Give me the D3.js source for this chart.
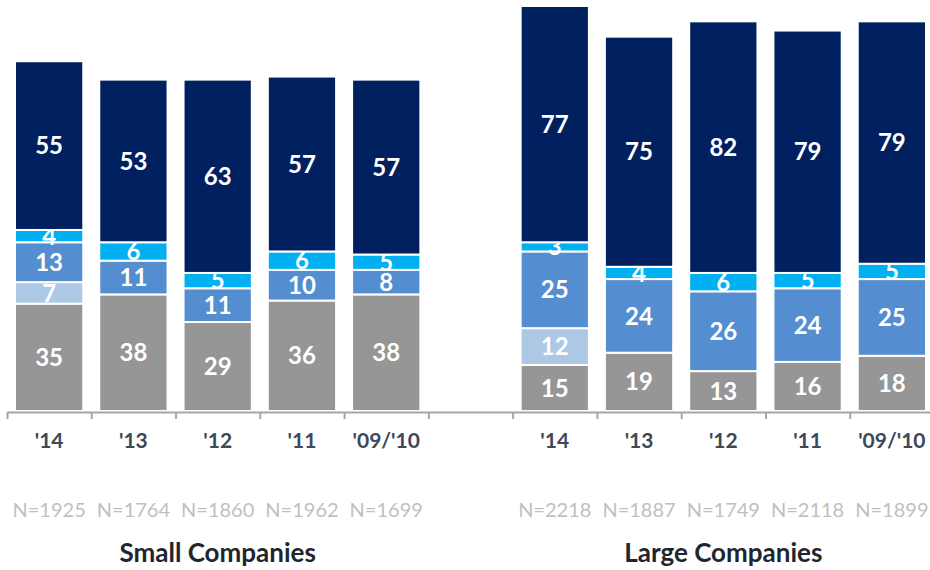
<!DOCTYPE html>
<html>
<head>
<meta charset="utf-8">
<script src="https://cdn.jsdelivr.net/npm/d3@7/dist/d3.min.js"></script>
<style>
  body { margin: 0; background: #fff; }
  svg { display: block; font-family: Lato, "Open Sans", sans-serif; }
</style>
</head>
<body>
<div id="chart"></div>
<script>
// categories
var years = ["'14", "'13", "'12", "'11", "'09/'10"];
var groupTitles = ["Small Companies", "Large Companies"];

// sample sizes
var smallN = [1925, 1764, 1860, 1962, 1699];
var largeN = [2218, 1887, 1749, 2118, 1899];

// series, bottom to top
var seriesKeys = ["grey", "pale", "mid", "cyan", "navy"];

var smallGrey = [35, 38, 29, 36, 38];
var smallPale = [7, 0, 0, 0, 0];
var smallMid  = [13, 11, 11, 10, 8];
var smallCyan = [4, 6, 5, 6, 5];
var smallNavy = [55, 53, 63, 57, 57];

var largeGrey = [15, 19, 13, 16, 18];
var largePale = [12, 0, 0, 0, 0];
var largeMid  = [25, 24, 26, 24, 25];
var largeCyan = [3, 4, 6, 5, 5];
var largeNavy = [77, 75, 82, 79, 79];

var colors = {
  grey: "#969696",
  pale: "#adc8e5",
  mid: "#558ed0",
  cyan: "#00b0f0",
  navy: "#002060"
};

function drawChart() {
  var width = 930;
  var height = 570;
  var baseY = 411;

  var svg = d3.select("#chart")
    .append("svg")
      .attr("width", width)
      .attr("height", height);

  // build one row per bar, with an empty slot between the two groups
  var rows = [];
  function addGroup(prefix, n, grey, pale, mid, cyan, navy) {
    years.forEach(function(yr, i) {
      rows.push({
        key: prefix + i, year: yr, n: n[i],
        grey: grey[i], pale: pale[i], mid: mid[i], cyan: cyan[i], navy: navy[i]
      });
    });
  }
  addGroup("S", smallN, smallGrey, smallPale, smallMid, smallCyan, smallNavy);
  var slots = rows.map(function(d) { return d.key; });
  slots.push("gap");
  addGroup("L", largeN, largeGrey, largePale, largeMid, largeCyan, largeNavy);
  rows.slice(5).forEach(function(d) { slots.push(d.key); });

  var x = d3.scaleBand()
      .domain(slots)
      .range([7, 934])
      .paddingInner(0.19)
      .paddingOuter(0.095);

  var y = d3.scaleLinear()
      .domain([0, 132])
      .range([baseY, 6]);

  var stack = d3.stack().keys(seriesKeys);
  var layers = stack(rows);

  var layer = svg.append("g")
    .selectAll("g")
    .data(layers)
    .enter().append("g")
      .attr("fill", function(d) { return colors[d.key]; });

  layer.selectAll("rect")
    .data(function(d) { return d.filter(function(s) { return s[1] > s[0]; }); })
    .enter().append("rect")
      .attr("x", function(d) { return x(d.data.key); })
      .attr("y", function(d) { return y(d[1]); })
      .attr("width", x.bandwidth())
      .attr("height", function(d) { return y(d[0]) - y(d[1]); })
      .attr("stroke", "#fff")
      .attr("stroke-width", 2);

  layer.selectAll("text")
    .data(function(d) { return d.filter(function(s) { return s[1] > s[0]; }); })
    .enter().append("text")
      .attr("x", function(d) { return x(d.data.key) + x.bandwidth() / 2; })
      .attr("y", function(d) { return (y(d[0]) + y(d[1])) / 2; })
      .attr("dy", "0.36em")
      .attr("text-anchor", "middle")
      .attr("fill", "#fff")
      .style("font-size", "24px")
      .style("font-weight", "bold")
      .text(function(d) { return d[1] - d[0]; });

  // baseline with tick marks at the slot edges
  var slotEdge = d3.scaleLinear()
      .domain([0, slots.length])
      .range(x.range());

  var axis = svg.append("g")
      .attr("transform", "translate(0," + (baseY + 1) + ")")
      .call(d3.axisBottom(slotEdge)
        .tickValues(d3.range(slots.length + 1))
        .tickSize(7)
        .tickSizeOuter(0)
        .tickFormat(""));
  axis.selectAll("path, line")
      .attr("stroke", "#a6a6a6")
      .attr("stroke-width", 2);

  // year labels
  svg.append("g")
    .selectAll("text")
    .data(rows)
    .enter().append("text")
      .attr("x", function(d) { return x(d.key) + x.bandwidth() / 2; })
      .attr("y", 448)
      .attr("text-anchor", "middle")
      .attr("fill", "#3d4859")
      .style("font-size", "21px")
      .style("font-weight", "bold")
      .text(function(d) { return d.year; });

  // sample sizes
  svg.append("g")
    .selectAll("text")
    .data(rows)
    .enter().append("text")
      .attr("x", function(d) { return x(d.key) + x.bandwidth() / 2; })
      .attr("y", 517)
      .attr("text-anchor", "middle")
      .attr("fill", "#bfbfbf")
      .style("font-size", "20px")
      .text(function(d) { return "N=" + d.n; });

  // group titles
  var groupCenters = [
    (x("S0") + x("S4") + x.bandwidth()) / 2,
    (x("L0") + x("L4") + x.bandwidth()) / 2
  ];
  svg.append("g")
    .selectAll("text")
    .data(groupTitles)
    .enter().append("text")
      .attr("x", function(d, i) { return groupCenters[i]; })
      .attr("y", 562)
      .attr("text-anchor", "middle")
      .attr("fill", "#1f2630")
      .style("font-size", "26px")
      .style("font-weight", "bold")
      .text(function(d) { return d; });
}

drawChart();
</script>
</body>
</html>
